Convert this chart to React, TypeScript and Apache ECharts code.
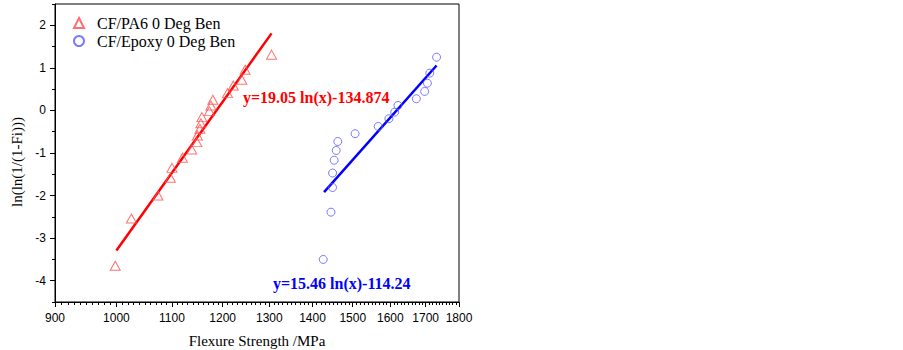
import React, { useEffect, useRef } from "react";
import * as echarts from "echarts";

const pa6Strength = [998, 1026, 1074, 1097, 1100, 1120, 1138, 1148, 1149, 1154, 1156, 1158, 1173, 1176, 1180, 1210, 1222, 1240, 1247, 1305];
const pa6Weibull = [-3.65, -2.54, -2.0, -1.58, -1.35, -1.11, -0.92, -0.744, -0.587, -0.43, -0.3, -0.157, -0.016, 0.117, 0.25, 0.406, 0.587, 0.72, 0.955, 1.31];

const epoxyStrength = [1426, 1445, 1449, 1449, 1453, 1458, 1462, 1506, 1567, 1596, 1612, 1621, 1673, 1697, 1705, 1712, 1732];
const epoxyWeibull = [-3.5, -2.39, -1.81, -1.47, -1.17, -0.94, -0.73, -0.547, -0.376, -0.195, -0.04, 0.117, 0.274, 0.446, 0.64, 0.876, 1.25];

const pa6FitX = [1000, 1305];
const pa6FitY = [-3.29, 1.81];
const epoxyFitX = [1428, 1732];
const epoxyFitY = [-1.92, 1.056];

const xTickLabels = [900, 1000, 1100, 1200, 1300, 1400, 1500, 1600, 1700, 1800];
const xMinorTicks: number[] = [];
for (let v = 900; v <= 1800; v += 10) xMinorTicks.push(v);
const yTickLabels = [-4, -3, -2, -1, 0, 1, 2];
const yMinorTicks = [-4.5, -3.5, -2.5, -1.5, -0.5, 0.5, 1.5, 2.5];

const seriesNames = ["CF/PA6 0 Deg Ben", "CF/Epoxy 0 Deg Ben"];
const pa6Equation = "y=19.05 ln(x)-134.874";
const epoxyEquation = "y=15.46 ln(x)-114.24";

const SERIF = "'Times New Roman', 'Liberation Serif', serif";
const SANS = "Arial, 'Liberation Sans', sans-serif";

const zip = (a: number[], b: number[]) => a.map((v, i) => [v, b[i]]);

export default function App() {
  const ref = useRef<HTMLDivElement>(null);
  useEffect(() => {
    if (!ref.current) return;
    const chart = echarts.init(ref.current, undefined, { renderer: "svg" });
    const xCommon = {
      type: "log" as const,
      logBase: 10,
      min: 900,
      max: 1800,
      gridIndex: 0,
      splitLine: { show: false },
      minorTick: { show: false },
      minorSplitLine: { show: false },
    };
    const yCommon = {
      type: "value" as const,
      min: -4.5,
      max: 2.5,
      splitLine: { show: false },
    };
    chart.setOption({
      animation: false,
      backgroundColor: "#ffffff",
      grid: {
        left: 55,
        right: 444,
        top: 4,
        bottom: 48,
        containLabel: false,
        outerBoundsMode: "none",
        show: true,
        borderColor: "#000",
        borderWidth: 1,
        backgroundColor: "transparent",
      },
      legend: {
        data: seriesNames,
        orient: "vertical",
        left: 68,
        top: 10,
        padding: 5,
        itemGap: 2,
        itemWidth: 10,
        itemHeight: 10,
        textStyle: { fontFamily: SERIF, fontSize: 16, color: "#000", padding: [0, 0, 0, 8] },
      },
      xAxis: [
        {
          ...xCommon,
          name: "Flexure Strength /MPa",
          nameLocation: "middle",
          nameGap: 31,
          nameTextStyle: { fontFamily: SERIF, fontSize: 15, color: "#000" },
          axisLine: { show: true, onZero: false, lineStyle: { color: "#000", width: 1 } },
          axisTick: { show: true, inside: false, length: 5, customValues: xTickLabels, lineStyle: { color: "#000", width: 1 } },
          axisLabel: {
            customValues: xTickLabels,
            margin: 10,
            fontFamily: SANS,
            fontSize: 12,
            color: "#000",
            formatter: (v: number) => String(Math.round(v)),
          },
        },
        {
          ...xCommon,
          position: "bottom",
          axisLine: { show: false, onZero: false },
          axisTick: { show: true, inside: false, length: 3, customValues: xMinorTicks, lineStyle: { color: "#000", width: 1 } },
          axisLabel: { show: false },
        },
      ],
      yAxis: [
        {
          ...yCommon,
          axisLine: { show: true, onZero: false, lineStyle: { color: "#000", width: 1 } },
          axisTick: { show: true, inside: false, length: 5, customValues: yTickLabels, lineStyle: { color: "#000", width: 1 } },
          axisLabel: {
            customValues: yTickLabels,
            margin: 9,
            fontFamily: SANS,
            fontSize: 12,
            color: "#000",
          },
        },
        {
          ...yCommon,
          position: "left",
          axisLine: { show: false, onZero: false },
          axisTick: { show: true, inside: false, length: 3, customValues: yMinorTicks, lineStyle: { color: "#000", width: 1 } },
          axisLabel: { show: false },
        },
      ],
      graphic: [
        {
          type: "text",
          x: 17,
          y: 162,
          rotation: Math.PI / 2,
          style: {
            text: "ln(ln(1/(1-Fi)))",
            fontFamily: SERIF,
            fontSize: 15,
            fill: "#000",
            align: "center",
            verticalAlign: "middle",
          },
        },
        {
          type: "text",
          x: 243,
          y: 97,
          style: {
            text: pa6Equation,
            fontFamily: SERIF,
            fontSize: 16,
            fontWeight: "bold",
            fill: "#ff0000",
            align: "left",
            verticalAlign: "middle",
          },
        },
        {
          type: "text",
          x: 273,
          y: 283,
          style: {
            text: epoxyEquation,
            fontFamily: SERIF,
            fontSize: 16,
            fontWeight: "bold",
            fill: "#0000ff",
            align: "left",
            verticalAlign: "middle",
          },
        },
      ],
      series: [
        {
          name: seriesNames[0],
          type: "scatter",
          xAxisIndex: 0,
          yAxisIndex: 0,
          symbol: "triangle",
          symbolSize: [10, 9],
          itemStyle: { color: "rgba(0,0,0,0)", borderColor: "#ff4d4d", borderWidth: 1 },
          data: zip(pa6Strength, pa6Weibull),
          z: 3,
        },
        {
          name: seriesNames[1],
          type: "scatter",
          xAxisIndex: 0,
          yAxisIndex: 0,
          symbol: "circle",
          symbolSize: 8,
          itemStyle: { color: "rgba(0,0,0,0)", borderColor: "#5a5aff", borderWidth: 1 },
          data: zip(epoxyStrength, epoxyWeibull),
          z: 3,
        },
        {
          name: "PA6 fit",
          type: "line",
          xAxisIndex: 0,
          yAxisIndex: 0,
          showSymbol: false,
          symbol: "none",
          lineStyle: { color: "#ff0000", width: 2.5 },
          data: zip(pa6FitX, pa6FitY),
          z: 2,
        },
        {
          name: "Epoxy fit",
          type: "line",
          xAxisIndex: 0,
          yAxisIndex: 0,
          showSymbol: false,
          symbol: "none",
          lineStyle: { color: "#0000ff", width: 2.5 },
          data: zip(epoxyFitX, epoxyFitY),
          z: 2,
        },
      ],
    });
    return () => chart.dispose();
  }, []);
  return (
    <div
      ref={ref}
      style={{ position: "absolute", left: 0, top: 0, width: 903, height: 350, background: "#fff" }}
    />
  );
}
